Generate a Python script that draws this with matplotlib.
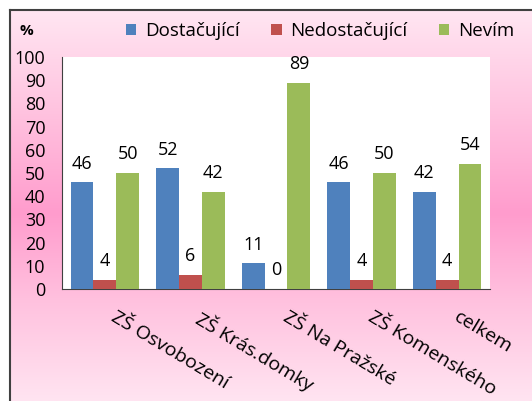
import numpy as np
import matplotlib
matplotlib.use("Agg")
import matplotlib.pyplot as plt
from matplotlib.colors import LinearSegmentedColormap

plt.rcParams['font.family'] = ['Open Sans', 'DejaVu Sans']

# ------------------ data ------------------
schools = ["ZŠ Osvobození", "ZŠ Krás.domky", "ZŠ Na Pražské", "ZŠ Komenského", "celkem"]
dostacujici = [46, 52, 11, 46, 42]
nedostacujici = [4, 6, 0, 4, 4]
nevim = [50, 42, 89, 50, 54]
series_names = ["Dostačující", "Nedostačující", "Nevím"]
colors = ["#4F81BD", "#C0504D", "#9BBB59"]
yticks = list(range(0, 101, 10))

W, H = 532, 401
fig = plt.figure(figsize=(W / 100, H / 100), dpi=100)
fig.patch.set_facecolor("white")

# ------------------ pink gradient background ------------------
bg = fig.add_axes([10 / W, 0, 1 - 10 / W, 1 - 10 / H], zorder=0)
pink = LinearSegmentedColormap.from_list(
    "pink", [(0.0, "#FFE6F2"), (0.25, "#FFC4E0"), (0.52, "#FF9CCD"), (0.75, "#FFC2DF"), (1.0, "#FFE4F1")])
grad = np.linspace(0, 1, 256).reshape(-1, 1)
bg.imshow(grad, aspect="auto", cmap=pink, extent=[0, 1, 0, 1], origin="upper")
bg.set_xlim(0, 1)
bg.set_ylim(0, 1)
bg.axis("off")
fig.add_artist(plt.Line2D([10 / W, 1], [1 - 10 / H, 1 - 10 / H], color="#404040", lw=1.5,
                          transform=fig.transFigure, zorder=5))
fig.add_artist(plt.Line2D([10 / W, 10 / W], [0, 1 - 10 / H], color="#404040", lw=1.5,
                          transform=fig.transFigure, zorder=5))

# ------------------ bar chart ------------------
ax = fig.add_axes([62 / W, 1 - 289 / H, 428 / W, 232 / H], zorder=2)
ax.set_facecolor("white")
x = np.arange(len(schools))
bw = 0.8 / 3
all_series = [dostacujici, nedostacujici, nevim]
for k, (vals, name, col) in enumerate(zip(all_series, series_names, colors)):
    pos = x + (k - 1) * bw
    ax.bar(pos, vals, width=bw, color=col, label=name, zorder=3)
    for px, v in zip(pos, vals):
        ax.annotate(str(v), (px, v), xytext=(0, 7), textcoords="offset points",
                    ha="center", va="bottom", fontsize=13, color="black")

ax.set_xlim(-0.5, len(schools) - 0.5)
ax.set_ylim(0, 100)
ax.set_yticks(yticks)
ax.set_yticklabels([str(t) for t in yticks], fontsize=13)
ax.tick_params(axis="y", length=0, pad=12)
ax.set_xticks([])
for s in ["top", "right"]:
    ax.spines[s].set_visible(False)
ax.spines["left"].set_color("#404040")
ax.spines["bottom"].set_color("#404040")

for i, name in enumerate(schools):
    ax.text(i + 0.15, -0.08, name, transform=ax.get_xaxis_transform(), rotation=-31,
            ha="left", va="top", rotation_mode="anchor", fontsize=14)

# legend and unit
fig.text(20 / W, 1 - 31 / H, "%", fontsize=11, fontweight="bold", va="center", ha="left")
fig.legend(loc="center", bbox_to_anchor=(320 / W, 1 - 31 / H), ncol=3, frameon=False,
           fontsize=13.5, handlelength=0.55, handleheight=0.55, handletextpad=0.45, columnspacing=1.7)

fig.savefig("out.png", dpi=100)
